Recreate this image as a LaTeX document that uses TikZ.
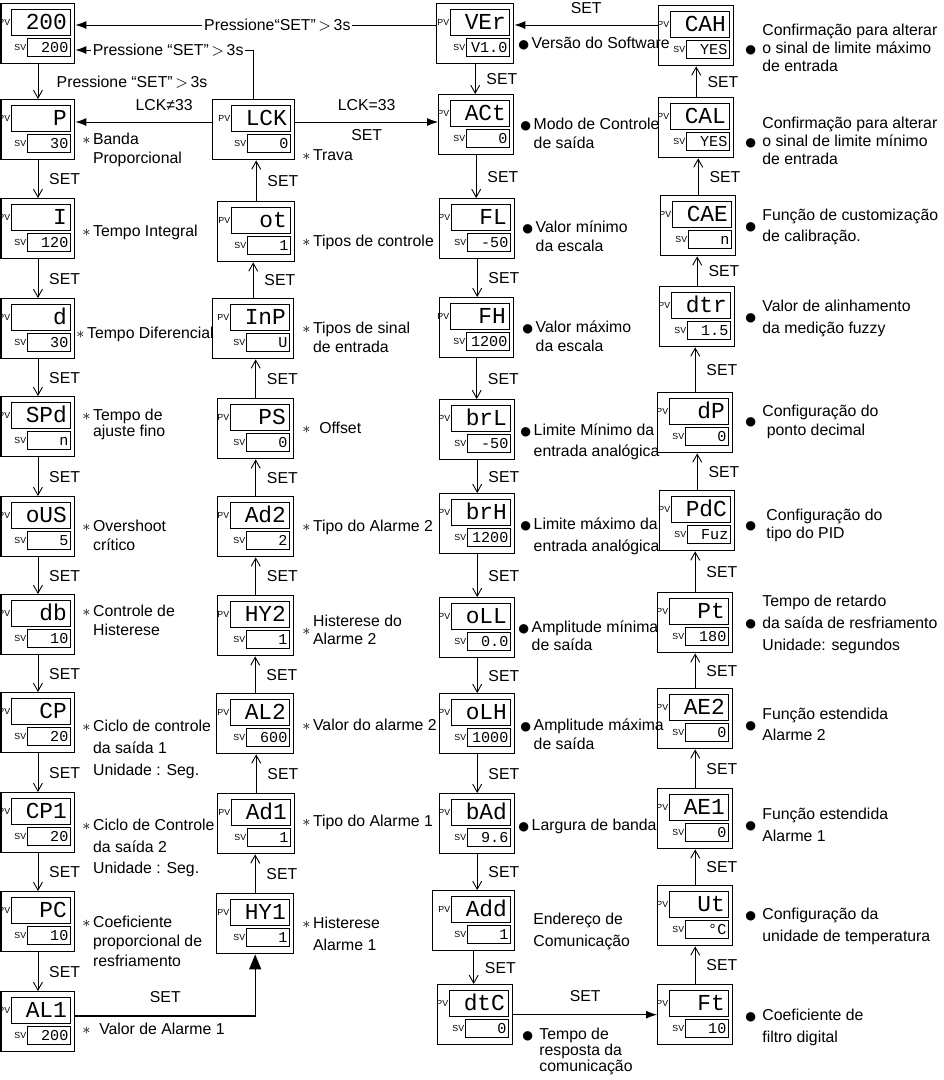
\documentclass[tikz,border=0pt]{standalone}
\usepackage{fontspec}
\setmainfont{Liberation Sans}
\newfontfamily\segfont{Liberation Mono}
\newfontfamily\dejavu{DejaVu Sans}
\usetikzlibrary{arrows.meta,calc,positioning}

\newcommand\bdot{{\dejavu\fontsize{7}{7}\selectfont ●}}
\newcommand\astl[1]{$\ast$\,\begin{tabular}[t]{@{}l@{}}#1\end{tabular}}
\newcommand\astc[1]{$\ast$\,\begin{tabular}[c]{@{}l@{}}#1\end{tabular}}
\newcommand\bull[1]{\bdot\,\begin{tabular}[t]{@{}l@{}}#1\end{tabular}}
\newcommand\bulf[1]{\bdot\hspace{0.4em}\begin{tabular}[t]{@{}l@{}}#1\end{tabular}}
\newcommand\bulc[1]{\bdot\hspace{0.4em}\begin{tabular}[c]{@{}l@{}}#1\end{tabular}}

% one controller display: name, left, top, width, PV text, SV text
\newcommand\panel[6]{%
  \node[dbox, minimum width=#4*0.02cm, anchor=north west] (#1) at (#2,#3) {};
  \node[pvwin, anchor=north east] (#1-pv) at ($(#1.north east)+(-4,6)$) {#5};
  \node[svwin, anchor=north east] (#1-sv) at ($(#1.north east)+(-4,35)$) {#6};
  \node[tag, anchor=east] (#1-pvt) at (#1-pv.west) {PV};
  \node[tag, anchor=east] (#1-svt) at (#1-sv.west) {SV};
}

\tikzset{
  dbox/.style={draw, line width=0.8pt, minimum height=1.2cm, inner sep=0pt},
  pvwin/.style={draw, line width=0.6pt, minimum height=0.52cm, text width=1.02cm,
    inner xsep=0.08cm, inner ysep=0pt, align=right, text height=9pt, text depth=1pt,
    font=\segfont\fontsize{13}{13}\selectfont},
  svwin/.style={draw, line width=0.6pt, minimum height=0.36cm, text width=0.76cm,
    inner xsep=0.05cm, inner ysep=0pt, align=right, text height=6pt, text depth=0.5pt,
    font=\segfont\fontsize{8.6}{9}\selectfont},
  tag/.style={inner sep=0.5pt, font=\fontsize{5}{5}\selectfont},
  varrow/.style={line width=0.5pt, -{Straight Barb[length=1.6mm,width=1.8mm]}},
  harrow/.style={line width=0.5pt, -{Latex[length=2.2mm,width=1.6mm]}},
  tarrow/.style={line width=0.7pt, -{Triangle[length=3mm,width=2.4mm]}},
  setl/.style={midway, right=0.1cm},
  lbl/.style={inner sep=0pt, anchor=west, font=\fontsize{9}{#1}\selectfont},
  lbl/.default=11pt,
}

\begin{document}
\begin{tikzpicture}[x=0.02cm, y=-0.02cm, font=\fontsize{9}{11}\selectfont]
  \useasboundingbox (0,0) rectangle (944,1080);

  % column 1
  \panel{home}{0.5}{3}{73.5}{200}{200}
  \panel{pb}{0.5}{99}{73.5}{P}{30}
  \panel{ti}{0.5}{198}{73.5}{I}{120}
  \panel{td}{0.5}{298}{73.5}{d}{30}
  \panel{spd}{0.5}{396}{73.5}{SPd}{n}
  \panel{ous}{0.5}{496}{73.5}{oUS}{5}
  \panel{db}{0.5}{594}{73.5}{db}{10}
  \panel{cp}{0.5}{692}{73.5}{CP}{20}
  \panel{cp1}{0.5}{792}{73.5}{CP1}{20}
  \panel{pc}{0.5}{891}{73.5}{PC}{10}
  \panel{al1}{0.5}{991}{73.5}{AL1}{200}

  % column 2
  \panel{lck}{212}{99}{82}{LCK}{0}
  \panel{ot}{217}{201}{77}{ot}{1}
  \panel{inp}{212}{298}{81}{InP}{U}
  \panel{ps}{217}{398}{76}{PS}{0}
  \panel{ad2}{217}{496}{76}{Ad2}{2}
  \panel{hy2}{217}{595}{76}{HY2}{1}
  \panel{al2}{216}{693}{77}{AL2}{600}
  \panel{ad1}{217}{793}{77}{Ad1}{1}
  \panel{hy1}{216}{893}{77}{HY1}{1}

  % column 3
  \panel{ver}{436}{3}{77}{VEr}{V1.0}
  \panel{act}{438}{94}{75}{ACt}{0}
  \panel{fl}{439}{198}{75}{FL}{-50}
  \panel{fh}{439}{297}{74}{FH}{1200}
  \panel{brl}{439}{399}{75}{brL}{-50}
  \panel{brh}{439}{493}{75}{brH}{1200}
  \panel{oll}{439}{597}{75}{oLL}{0.0}
  \panel{olh}{439}{693}{75}{oLH}{1000}
  \panel{bad}{439}{793}{75}{bAd}{9.6}
  \panel{add}{432}{890}{82}{Add}{1}
  \panel{dtc}{437}{984}{75}{dtC}{0}

  % column 4
  \panel{cah}{658}{5}{75}{CAH}{YES}
  \panel{cal}{658}{97}{75}{CAL}{YES}
  \panel{cae}{660}{195}{75}{CAE}{n}
  \panel{dtr}{659}{286}{75}{dtr}{1.5}
  \panel{dp}{657}{392}{75}{dP}{0}
  \panel{pdc}{659}{490}{75}{PdC}{Fuz}
  \panel{pt}{657}{592}{75}{Pt}{180}
  \panel{ae2}{657}{688}{75}{AE2}{0}
  \panel{ae1}{657}{788}{75}{AE1}{0}
  \panel{ut}{657}{885}{75}{Ut}{°C}
  \panel{ft}{657}{984}{75}{Ft}{10}

  % vertical SET steps
  \draw[varrow] (home.south) -- node[midway, right=0.25cm] {Pressione “SET”\,$>$\,3s} (home.south |- pb.north);
  \foreach \a/\b in {pb/ti, ti/td, td/spd, spd/ous, ous/db, db/cp, cp/cp1, cp1/pc, pc/al1,
                     ver/act, act/fl, fl/fh, fh/brl, brl/brh, brh/oll, oll/olh, olh/bad, bad/add, add/dtc}
    \draw[varrow] (\a.south) -- node[setl] {SET} (\a.south |- \b.north);
  \foreach \a/\b in {hy1/ad1, ad1/al2, al2/hy2, hy2/ad2, ad2/ps, ps/inp, inp/ot, ot/lck,
                     ft/ut, ut/ae1, ae1/ae2, ae2/pt, pt/pdc, pdc/dp, dp/dtr, dtr/cae, cae/cal, cal/cah}
    \draw[varrow] (\a.north) -- node[setl] {SET} (\a.north |- \b.south);

  % horizontal links
  \coordinate (verL) at ($(ver.north west)+(0,22)$);
  \draw[harrow] (verL) -- node[pos=0.44, fill=white, inner sep=1pt] {Pressione“SET”\,$>$\,3s} (verL -| home.east);
  \draw[harrow] (lck.north) |- node[pos=0.74, fill=white, inner sep=1pt] {Pressione “SET”\,$>$\,3s} ($(home.north east)+(0,47)$);
  \coordinate (lckL) at ($(lck.north west)+(0,23)$);
  \coordinate (lckR) at ($(lck.north east)+(0,23)$);
  \draw[harrow] (lckL) -- node[pos=0.35, above=0.1cm] {LCK≠33} (lckL -| pb.east);
  \draw[harrow] (lckR) -- node[above=0.1cm] {LCK=33} node[below=0.02cm] {SET} (lckR -| act.west);
  \coordinate (cahL) at ($(cah.north west)+(0,20)$);
  \draw[harrow] (cahL) -- node[above=0.1cm] {SET} (cahL -| ver.east);
  \draw[harrow] (dtc.east) -- node[above=0.14cm] {SET} (dtc.east -| ft.west);
  \draw[tarrow] ($(al1.north east)+(0,25)$) -| node[pos=0.25, above=0.14cm] {SET} (hy1.south);

  % column 1 notes
  \node[lbl=11.3pt] (n-pb) at (82,150) {\astl{Banda\\Proporcional}};
  \node[lbl] (n-ti) at (82,233) {\astl{Tempo Integral}};
  \node[lbl] (n-td) at (76,335) {\astl{Tempo Diferencial}};
  \node[lbl=9.4pt] (n-spd) at (82,425) {\astl{Tempo de\\ajuste fino}};
  \node[lbl=10.8pt] (n-ous) at (82,537) {\astl{Overshoot\\crítico}};
  \node[lbl=10.8pt] (n-db) at (82,622) {\astl{Controle de\\Histerese}};
  \node[lbl=12.5pt] (n-cp) at (82,749) {\astl{Ciclo de controle\\da saída 1\\Unidade : Seg.}};
  \node[lbl=12.2pt] (n-cp1) at (82,848) {\astl{Ciclo de Controle\\da saída 2\\Unidade : Seg.}};
  \node[lbl=11.3pt] (n-pc) at (82,943) {\astl{Coeficiente\\proporcional de\\resfriamento}};
  \node[lbl] (n-al1) at (82,1029) {$\ast$\ \ Valor de Alarme 1};

  % column 2 notes
  \node[lbl] (n-lck) at (302,157) {\astl{Trava}};
  \node[lbl] (n-ot) at (302,243) {\astl{Tipos de controle}};
  \node[lbl=10.8pt] (n-inp) at (302,339) {\astl{Tipos de sinal\\de entrada}};
  \node[lbl] (n-ps) at (302,428) {$\ast$\ \ Offset};
  \node[lbl] (n-ad2) at (302,528) {\astl{Tipo do Alarme 2}};
  \node[lbl=10.2pt] (n-hy2) at (302,632) {\astc{Histerese do\\Alarme 2}};
  \node[lbl] (n-al2) at (302,727) {\astl{Valor do alarme 2}};
  \node[lbl] (n-ad1) at (302,823) {\astl{Tipo do Alarme 1}};
  \node[lbl=12.5pt] (n-hy1) at (302,935) {\astl{Histerese\\Alarme 1}};

  % column 3 notes
  \node[lbl] (n-ver) at (518,45) {\bull{Versão do Software}};
  \node[lbl=10.8pt] (n-act) at (520,135) {\bull{Modo de Controle\\de saída}};
  \node[lbl=10.8pt] (n-fl) at (522,238) {\bull{Valor mínimo\\da escala}};
  \node[lbl=11.3pt] (n-fh) at (522,338) {\bull{Valor máximo\\da escala}};
  \node[lbl=12pt] (n-brl) at (520,442) {\bull{Limite Mínimo da\\entrada analógica}};
  \node[lbl=12.5pt] (n-brh) at (520,536) {\bull{Limite máximo da\\entrada analógica}};
  \node[lbl=10.2pt] (n-oll) at (518,638) {\bull{Amplitude mínima\\de saída}};
  \node[lbl=10.8pt] (n-olh) at (520,736) {\bull{Amplitude máxima\\de saída}};
  \node[lbl] (n-bad) at (518,827) {\bull{Largura de banda}};
  \node[lbl=12.5pt] (n-add) at (533,931) {\begin{tabular}{@{}l@{}}Endereço de\\Comunicação\end{tabular}};
  \node[lbl=9.2pt] (n-dtc) at (522,1052) {\bulf{Tempo de\\resposta da\\comunicação}};

  % column 4 notes
  \node[lbl=10.2pt] (n-cah) at (745,50) {\bulc{Confirmação para alterar\\o sinal de limite máximo\\de entrada}};
  \node[lbl=10.2pt] (n-cal) at (745,143) {\bulc{Confirmação para alterar\\o sinal de limite mínimo\\de entrada}};
  \node[lbl=12pt] (n-cae) at (745,227) {\bulc{Função de customização\\de calibração.}};
  \node[lbl=12.5pt] (n-dtr) at (745,318) {\bulc{Valor de alinhamento\\da medição fuzzy}};
  \node[lbl=11.3pt] (n-dp) at (745,422) {\bulc{Configuração do\\\ ponto decimal}};
  \node[lbl=10.2pt] (n-pdc) at (745,526) {\bdot\hspace{0.65em}\begin{tabular}[c]{@{}l@{}}Configuração do\\tipo do PID\end{tabular}};
  \node[lbl=12.7pt] (n-pt) at (745,624) {\bulc{Tempo de retardo\\da saída de resfriamento\\Unidade: segundos}};
  \node[lbl=12pt] (n-ae2) at (745,726) {\bulc{Função estendida\\Alarme 2}};
  \node[lbl=12.5pt] (n-ae1) at (745,826) {\bulc{Função estendida\\Alarme 1}};
  \node[lbl=12.5pt] (n-ut) at (745,926) {\bulf{Configuração da\\unidade de temperatura}};
  \node[lbl=12.5pt] (n-ft) at (745,1027) {\bulf{Coeficiente de\\filtro digital}};
\end{tikzpicture}
\end{document}
